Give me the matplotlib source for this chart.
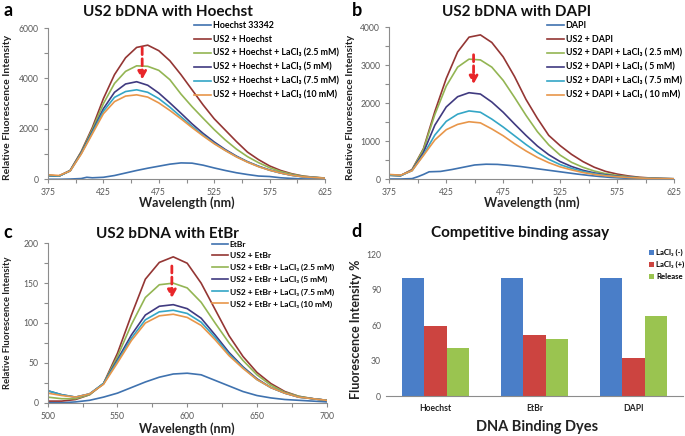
import numpy as np
import matplotlib
matplotlib.use("Agg")
import matplotlib.pyplot as plt

plt.rcParams['font.family'] = ['Lato', 'DejaVu Sans']

# ---- data ----
wl_ab = [375, 385, 395, 405, 415, 425, 435, 445, 455, 465, 475, 485, 495,
         505, 515, 525, 535, 545, 555, 565, 575, 585, 595, 605, 615, 625]

# panel a: Hoechst
hoechst_wl = [375, 385, 395, 405, 410, 415, 425, 435, 445, 455, 465, 475, 485, 495,
              505, 515, 525, 535, 545, 555, 565, 575, 585, 595, 605, 625]
hoechst = [0, 0, 10, 30, 80, 60, 80, 150, 250, 350, 440, 520, 600, 650,
           640, 560, 450, 350, 260, 190, 130, 110, 60, 35, 15, 5]
us2_hoechst = [150, 130, 350, 1100, 2050, 3200, 4150, 4820, 5230, 5320, 5100, 4700, 4150,
               3550, 2950, 2400, 1950, 1500, 1080, 780, 530, 350, 220, 130, 80, 50]
h_la25 = [150, 130, 350, 1080, 1980, 3000, 3800, 4280, 4500, 4480, 4320, 3950, 3380,
          2880, 2420, 1970, 1560, 1200, 900, 660, 460, 310, 200, 120, 80, 50]
h_la5 = [150, 130, 340, 1050, 1900, 2800, 3450, 3780, 3870, 3730, 3420, 3030, 2620,
         2200, 1820, 1480, 1180, 920, 700, 520, 370, 250, 160, 100, 70, 45]
h_la75 = [150, 130, 330, 1020, 1850, 2700, 3250, 3480, 3550, 3450, 3200, 2860, 2480,
          2100, 1750, 1430, 1150, 900, 690, 510, 360, 250, 160, 100, 70, 45]
h_la10 = [180, 150, 330, 1000, 1800, 2600, 3080, 3300, 3350, 3260, 3030, 2730, 2400,
          2050, 1720, 1410, 1140, 890, 680, 500, 360, 250, 160, 100, 70, 45]

# panel b: DAPI
dapi_wl = [375, 385, 395, 400, 405, 410, 415, 420, 430, 440, 450, 460, 470, 480, 490,
           500, 510, 520, 530, 540, 550, 560, 570, 580, 590, 600, 625]
dapi = [0, 0, 10, 60, 120, 190, 195, 200, 250, 310, 370, 390, 385, 360, 330,
        290, 250, 210, 170, 130, 95, 65, 40, 25, 15, 10, 5]
us2_dapi = [100, 90, 250, 800, 1780, 2650, 3350, 3740, 3800, 3600, 3220, 2700, 2100,
            1600, 1150, 880, 650, 460, 310, 200, 130, 80, 45, 25, 12, 5]
d_la25 = [100, 90, 240, 780, 1700, 2450, 2950, 3160, 3140, 2950, 2600, 2150, 1680,
          1250, 900, 630, 440, 310, 210, 140, 95, 60, 35, 20, 10, 5]
d_la5 = [100, 90, 230, 700, 1420, 1900, 2170, 2275, 2240, 2030, 1760, 1450, 1150,
         870, 640, 460, 330, 230, 160, 110, 75, 50, 30, 18, 10, 5]
d_la75 = [100, 90, 220, 640, 1160, 1520, 1710, 1795, 1760, 1580, 1370, 1140, 910,
          700, 520, 380, 280, 200, 140, 95, 65, 45, 28, 16, 10, 5]
d_la10 = [120, 100, 220, 620, 1030, 1300, 1440, 1510, 1480, 1320, 1140, 930, 740,
          570, 430, 320, 240, 170, 120, 85, 60, 40, 25, 15, 10, 5]

# panel c: EtBr
wl_c = [500, 510, 520, 530, 540, 550, 560, 570, 580, 590, 600,
        610, 620, 630, 640, 650, 660, 670, 680, 690, 700]
etbr = [0, 0, 1, 3, 7, 12, 19, 26, 32, 36, 37, 35, 28, 21, 14, 9, 6, 4, 3, 2, 1]
us2_etbr = [2, 2, 4, 10, 24, 62, 110, 155, 176, 183, 175, 150, 117, 84, 58, 38, 24, 14, 8, 5, 3]
e_la25 = [7, 5, 5, 10, 24, 58, 98, 132, 148, 150, 144, 126, 100, 75, 53, 35, 22, 13, 8, 5, 3]
e_la5 = [15, 10, 7, 11, 24, 54, 85, 110, 121, 123, 118, 106, 85, 63, 45, 30, 19, 12, 7, 5, 3]
e_la75 = [15, 10, 7, 11, 24, 52, 81, 104, 114, 116, 112, 101, 82, 61, 44, 29, 19, 12, 7, 5, 3]
e_la10 = [12, 9, 7, 11, 23, 50, 78, 100, 109, 111, 107, 97, 79, 59, 43, 29, 19, 12, 7, 5, 3]

# panel d
dyes = ['Hoechst', 'EtBr', 'DAPI']
la_minus = [100, 100, 100]
la_plus = [59, 51.5, 32.5]
release = [41, 48.5, 67.5]

colors = ['#3F72AF', '#943634', '#93B553', '#403A80', '#34A6C6', '#E8964A']
grey = '#595959'


def style_axes(ax):
    for s in ['top', 'right']:
        ax.spines[s].set_visible(False)
    for s in ['left', 'bottom']:
        ax.spines[s].set_color('#8C8C8C')
        ax.spines[s].set_linewidth(0.8)
    ax.tick_params(colors='#8C8C8C', labelcolor=grey, labelsize=6.2, length=3, width=0.8)


def spectrum_panel(ax, series, names, xlim, xstep, ylim, ystep, leg_xy, leg_fs, leg_sp):
    for (x, y), name, c in zip(series, names, colors):
        ax.plot(x, y, color=c, lw=1.2, label=name)
    ax.set_xlim(*xlim)
    ax.set_ylim(*ylim)
    xt = np.arange(xlim[0], xlim[1] + 1, xstep)
    ax.set_xticks(xt)
    ax.set_xticklabels([str(v) if i % 2 == 0 else '' for i, v in enumerate(xt)])
    yt = np.arange(ylim[0], ylim[1] + 1, ystep)
    ax.set_yticks(yt)
    ax.set_yticklabels([str(v) if i % 2 == 0 else '' for i, v in enumerate(yt)])
    style_axes(ax)
    ax.legend(loc='upper left', bbox_to_anchor=leg_xy, bbox_transform=fig.transFigure,
              frameon=False, handlelength=1.9, handletextpad=0.2,
              labelspacing=leg_sp, borderpad=0, borderaxespad=0,
              prop={'weight': 'bold', 'size': leg_fs})


def red_arrow(ax, x, y0, y1):
    ax.annotate('', xy=(x, y1), xytext=(x, y0),
                arrowprops=dict(arrowstyle='-|>,head_width=0.25,head_length=0.45',
                                color='#E8262A', lw=2, ls=(0, (2.5, 1.5))))


fig = plt.figure(figsize=(6.85, 4.36), dpi=100)
W, H = 685.0, 436.0

# ---- a ----
axa = fig.add_axes([48 / W, 1 - 179.3 / H, 277 / W, 151.3 / H])
spectrum_panel(axa,
               [(hoechst_wl, hoechst), (wl_ab, us2_hoechst), (wl_ab, h_la25),
                (wl_ab, h_la5), (wl_ab, h_la75), (wl_ab, h_la10)],
               ['Hoechst 33342', 'US2 + Hoechst', 'US2 + Hoechst + LaCl₃ (2.5 mM)',
                'US2 + Hoechst + LaCl₃ (5 mM)', 'US2 + Hoechst + LaCl₃ (7.5 mM)',
                'US2 + Hoechst + LaCl₃ (10 mM)'],
               (375, 625), 25, (0, 6000), 1000, (194 / W, 1 - 21 / H), 6.4, 0.55)
red_arrow(axa, 460, 5330, 3850)

# ---- b ----
axb = fig.add_axes([389.3 / W, 1 - 179 / H, 284.7 / W, 151.7 / H])
spectrum_panel(axb,
               [(dapi_wl, dapi), (wl_ab, us2_dapi), (wl_ab, d_la25),
                (wl_ab, d_la5), (wl_ab, d_la75), (wl_ab, d_la10)],
               ['DAPI', 'US2 + DAPI', 'US2 + DAPI + LaCl₃ ( 2.5 mM)',
                'US2 + DAPI + LaCl₃ ( 5 mM)', 'US2 + DAPI + LaCl₃ ( 7.5 mM)',
                'US2 + DAPI + LaCl₃ ( 10 mM)'],
               (375, 625), 25, (0, 4000), 500, (547 / W, 1 - 21 / H), 6.4, 0.55)
red_arrow(axb, 449, 3350, 2430)

# ---- c ----
axc = fig.add_axes([47.7 / W, 1 - 402.7 / H, 279 / W, 159.4 / H])
spectrum_panel(axc,
               [(wl_c, etbr), (wl_c, us2_etbr), (wl_c, e_la25),
                (wl_c, e_la5), (wl_c, e_la75), (wl_c, e_la10)],
               ['EtBr', 'US2 + EtBr', 'US2 + EtBr + LaCl₃ (2.5 mM)',
                'US2 + EtBr + LaCl₃ (5 mM)', 'US2 + EtBr + LaCl₃ (7.5 mM)',
                'US2 + EtBr + LaCl₃ (10 mM)'],
               (500, 700), 25, (0, 200), 25, (212 / W, 1 - 240.5 / H), 6, 0.58)
red_arrow(axc, 589, 175, 128)

# ---- d ----
axd = fig.add_axes([386 / W, 1 - 396 / H, 297 / W, 141.7 / H])
x = np.arange(len(dyes))
bw = 0.225
axd.bar(x - bw, la_minus, bw, color='#4A7EC8', label='LaCl₃ (-)')
axd.bar(x, la_plus, bw, color='#CC4440', label='LaCl₃ (+)')
axd.bar(x + bw, release, bw, color='#9AC450', label='Release')
axd.set_xlim(-0.5, 2.5)
axd.set_ylim(0, 120)
axd.set_yticks([0, 30, 60, 90, 120])
axd.set_xticks(x)
axd.set_xticklabels(dyes, fontweight='bold', fontsize=7)
style_axes(axd)
axd.spines['left'].set_visible(False)
axd.tick_params(axis='x', length=0, labelcolor='#222222', pad=6)
axd.tick_params(axis='y', length=0)
axd.legend(loc='upper left', bbox_to_anchor=(649 / W, 1 - 249 / H), bbox_transform=fig.transFigure,
           frameon=False, handlelength=0.6, handleheight=0.6, handletextpad=0.35,
           labelspacing=0.6, borderpad=0, borderaxespad=0,
           prop={'weight': 'bold', 'size': 5.6})

# ---- titles, panel letters, axis labels ----
tkw = dict(fontsize=11, fontweight='bold', ha='center', va='center', color='#111111')
fig.text(168 / W, 1 - 12 / H, 'US2 bDNA with Hoechst', **tkw)
fig.text(517 / W, 1 - 12 / H, 'US2 bDNA with DAPI', **tkw)
fig.text(167 / W, 1 - 234 / H, 'US2 bDNA with EtBr', **tkw)
fig.text(520 / W, 1 - 233 / H, 'Competitive binding assay', **tkw)

lkw = dict(fontsize=13, fontweight='bold', ha='left', va='center')
fig.text(3 / W, 1 - 11 / H, 'a', **lkw)
fig.text(352 / W, 1 - 11 / H, 'b', **lkw)
fig.text(3 / W, 1 - 232 / H, 'c', **lkw)
fig.text(351 / W, 1 - 231 / H, 'd', **lkw)

xkw = dict(fontsize=9, fontweight='bold', ha='center', va='center', color='#222222')
fig.text(187 / W, 1 - 203 / H, 'Wavelength (nm)', **xkw)
fig.text(532 / W, 1 - 203 / H, 'Wavelength (nm)', **xkw)
fig.text(187 / W, 1 - 429 / H, 'Wavelength (nm)', **xkw)
fig.text(537 / W, 1 - 427 / H, 'DNA Binding Dyes', fontsize=10.5, fontweight='bold',
         ha='center', va='center', color='#222222')

ykw = dict(fontsize=7.5, fontweight='bold', ha='center', va='center', rotation=90, color='#222222')
fig.text(8 / W, 1 - 107 / H, 'Relative Fluorescence Intensity', **ykw)
fig.text(350 / W, 1 - 107 / H, 'Relative Fluorescence Intensity', **ykw)
fig.text(8 / W, 1 - 323 / H, 'Relative Fluorescence Intensity', fontsize=6.8, fontweight='bold',
         ha='center', va='center', rotation=90, color='#222222')
fig.text(356 / W, 1 - 329 / H, 'Fluorescence Intensity %', fontsize=9, fontweight='bold',
         ha='center', va='center', rotation=90, color='#222222')

fig.savefig('out.png', dpi=100)
